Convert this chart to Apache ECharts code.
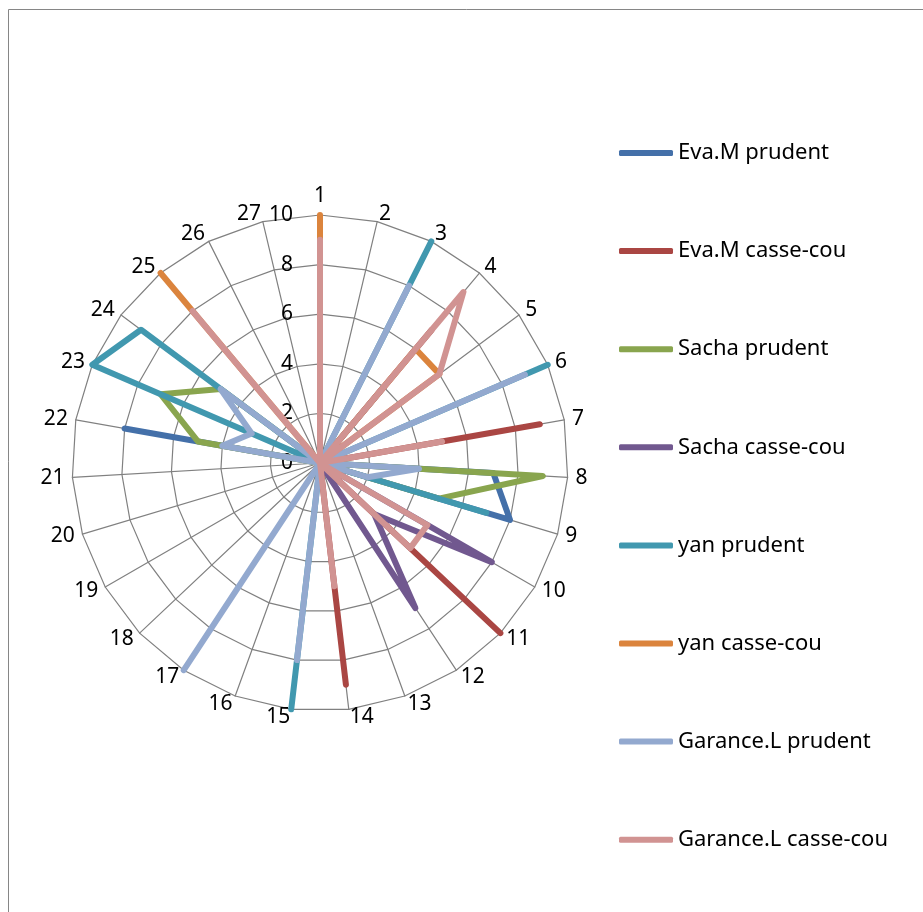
<!DOCTYPE html>
<html>
<head>
<meta charset="utf-8">
<script src="https://cdn.jsdelivr.net/npm/echarts@6/dist/echarts.min.js"></script>
<style>
  html, body { margin: 0; background: #fff; }
  #chart { width: 923px; height: 912px; }
</style>
</head>
<body>
<div id="chart"></div>
<script>
// axes 1..27, clockwise from the top
const axes = ['1','2','3','4','5','6','7','8','9','10','11','12','13','14','15','16','17','18','19','20','21','22','23','24','25','26','27'];
const seriesNames = ['Eva.M prudent', 'Eva.M casse-cou', 'Sacha prudent', 'Sacha casse-cou',
                     'yan prudent', 'yan casse-cou', 'Garance.L prudent', 'Garance.L casse-cou'];

//                 1  2  3  4  5  6  7  8  9 10 11 12 13 14 15 16 17 18 19 20 21 22 23 24 25 26 27
const evaPrudent = [0, 0, 0, 0, 0, 0, 0, 7, 8, 0, 0, 0, 0, 0, 0, 0, 0, 0, 0, 0, 0, 8, 0, 0, 0, 0, 0];
const evaCasse   = [0, 0, 0, 7, 0, 0, 9, 0, 0, 0,10, 0, 0, 9, 0, 0, 0, 0, 0, 0, 0, 0, 0, 0, 0, 0, 0];
const sachaPrud  = [0, 0, 0, 0, 0, 0, 0, 9, 5, 0, 0, 0, 0, 0, 0, 0, 0, 0, 0, 0, 0, 5, 7, 5, 0, 0, 0];
const sachaCasse = [0, 0, 0, 4, 0, 0, 0, 0, 0, 8, 3, 7, 0, 0, 0, 0, 0, 0, 0, 0, 0, 0, 0, 0, 0, 0, 0];
const yanPrudent = [0, 0,10, 0, 0,10, 0, 0, 7, 0, 0, 0, 0, 0,10, 0, 0, 0, 0, 0, 0, 0,10, 9, 0, 0, 0];
const yanCasse   = [10,0, 0, 6, 6, 0, 0, 0, 0, 0, 0, 0, 0, 0, 0, 0, 0, 0, 0, 0, 0, 0, 0, 0,10, 0, 0];
const garPrudent = [0, 0, 8, 0, 0, 9, 0, 4, 2, 0, 0, 0, 0, 0, 8, 0,10, 0, 0, 0, 0, 4, 3, 5, 0, 0, 0];
const garCasse   = [9, 0, 0, 9, 6, 0, 5, 0, 0, 5, 5, 0, 0, 5, 0, 0, 0, 0, 0, 0, 0, 0, 0, 0, 8, 0, 0];

const allValues = [evaPrudent, evaCasse, sachaPrud, sachaCasse, yanPrudent, yanCasse, garPrudent, garCasse];
const colors = ['#4470A9', '#AA4643', '#89A54E', '#71588F', '#4198AF', '#DB843D', '#93A9CF', '#D19392'];

const FONT = "'Noto Sans', 'Open Sans', sans-serif";

// echarts radar runs counter-clockwise, so feed axes as 1, 27, 26, ... 2
const order = [0];
for (let i = axes.length - 1; i >= 1; i--) order.push(i);

const indicator = order.map((i, k) => {
  const ind = { name: axes[i], min: 0, max: 10 };
  if (k === 0) ind.axisLabel = { show: true };   // scale labels only on axis 1
  return ind;
});

const chart = echarts.init(document.getElementById('chart'));
chart.setOption({
  backgroundColor: '#fff',
  animation: false,
  graphic: [{
    type: 'rect',
    shape: { x: 8.5, y: 9.5, width: 1000, height: 1000 },
    style: { fill: 'none', stroke: '#868686', lineWidth: 1 },
    silent: true
  }],
  legend: {
    orient: 'vertical',
    left: 619,
    top: 141,
    padding: 0,
    itemWidth: 54,
    itemHeight: 6,
    itemGap: 74.1,
    icon: 'roundRect',
    data: seriesNames,
    textStyle: { color: '#000', fontSize: 22, fontFamily: FONT, lineHeight: 24 }
  },
  radar: {
    center: [320, 463],
    radius: 248,
    startAngle: 90,
    shape: 'polygon',
    splitNumber: 5,
    nameGap: 8,
    axisName: { color: '#000', fontSize: 21, fontFamily: FONT },
    splitLine: { lineStyle: { color: '#808080', width: 1.2 } },
    splitArea: { show: false },
    axisLine: { lineStyle: { color: '#808080', width: 1.2 } },
    axisTick: { show: false },
    axisLabel: { show: false, color: '#000', fontSize: 21, fontFamily: FONT, margin: 27 },
    indicator: indicator
  },
  series: [{
    type: 'radar',
    symbol: 'none',
    data: allValues.map((vals, s) => ({
      name: seriesNames[s],
      value: order.map(i => vals[i]),
      itemStyle: { color: colors[s] },
      lineStyle: { color: colors[s], width: 6, join: 'round', cap: 'round' }
    }))
  }]
});
</script>
</body>
</html>
